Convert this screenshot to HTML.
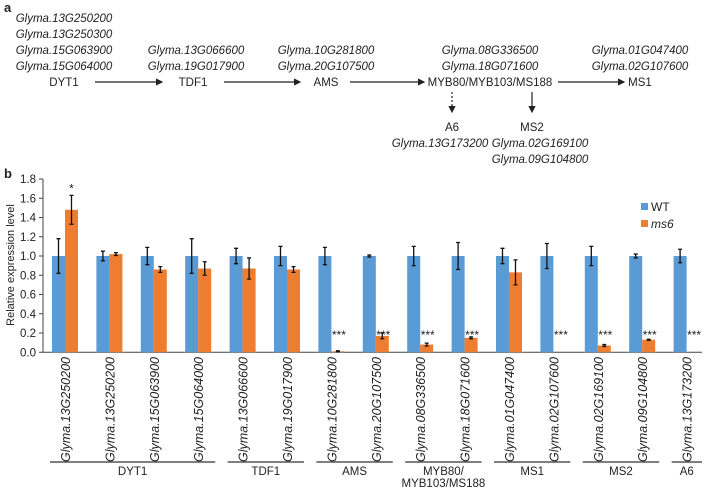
<!DOCTYPE html>
<html><head><meta charset="utf-8"><style>
html,body{margin:0;padding:0;background:#fff;}
svg text{font-family:"Liberation Sans",sans-serif;fill:#222;}
.it{font-style:italic;}
</style></head><body>
<svg id="fig" width="708" height="488" xmlns="http://www.w3.org/2000/svg">
<defs><marker id="ah" markerWidth="6" markerHeight="6" refX="5" refY="3" orient="auto"><path d="M0,0L6,3L0,6z" fill="#222"/></marker></defs>
<g font-size="11.5">
<text x="4" y="12" font-weight="bold" font-size="13">a</text>
<g class="it" text-anchor="middle">
<text x="64" y="22" class="it">Glyma.13G250200</text><text x="64" y="38" class="it">Glyma.13G250300</text>
<text x="64" y="54" class="it">Glyma.15G063900</text><text x="64" y="70" class="it">Glyma.15G064000</text></g>
<g text-anchor="middle">
<text x="196" y="54" class="it">Glyma.13G066600</text><text x="196" y="70" class="it">Glyma.19G017900</text></g>
<g text-anchor="middle">
<text x="326" y="54" class="it">Glyma.10G281800</text><text x="326" y="70" class="it">Glyma.20G107500</text></g>
<g text-anchor="middle">
<text x="490" y="54" class="it">Glyma.08G336500</text><text x="490" y="70" class="it">Glyma.18G071600</text></g>
<g text-anchor="middle">
<text x="640" y="54" class="it">Glyma.01G047400</text><text x="640" y="70" class="it">Glyma.02G107600</text></g>
<g text-anchor="middle">
<text x="64" y="86">DYT1</text><text x="193" y="86">TDF1</text><text x="326" y="86">AMS</text>
<text x="490" y="86">MYB80/MYB103/MS188</text><text x="640" y="86">MS1</text>
<text x="452" y="131">A6</text><text x="532" y="131">MS2</text></g>
<g stroke="#222" stroke-width="1.2">
<line x1="95" y1="82" x2="162" y2="82" marker-end="url(#ah)"/>
<line x1="224" y1="82" x2="300" y2="82" marker-end="url(#ah)"/>
<line x1="350" y1="82" x2="424" y2="82" marker-end="url(#ah)"/>
<line x1="558" y1="82" x2="624" y2="82" marker-end="url(#ah)"/>
<line x1="452" y1="92" x2="452" y2="112" stroke-dasharray="2,2" marker-end="url(#ah)"/>
<line x1="532" y1="92" x2="532" y2="112" marker-end="url(#ah)"/></g>
<g text-anchor="middle">
<text x="440" y="147" class="it">Glyma.13G173200</text>
<text x="540" y="147" class="it">Glyma.02G169100</text><text x="540" y="163" class="it">Glyma.09G104800</text></g>
</g>
<text x="4" y="178" font-weight="bold" font-size="13">b</text>
<g id="chart"></g>
</svg>
<script>
const genes=["Glyma.13G250200","Glyma.13G250200","Glyma.15G063900","Glyma.15G064000","Glyma.13G066600","Glyma.19G017900","Glyma.10G281800","Glyma.20G107500","Glyma.08G336500","Glyma.18G071600","Glyma.01G047400","Glyma.02G107600","Glyma.02G169100","Glyma.09G104800","Glyma.13G173200"];
const wtValues=[1.0,1.0,1.0,1.0,1.0,1.0,1.0,1.0,1.0,1.0,1.0,1.0,1.0,1.0,1.0];
const wtErrors=[0.18,0.05,0.09,0.18,0.08,0.1,0.09,0.01,0.1,0.14,0.08,0.13,0.1,0.02,0.07];
const ms6Values=[1.48,1.02,0.86,0.87,0.87,0.86,0.01,0.17,0.08,0.15,0.83,0,0.07,0.13,0];
const ms6Errors=[0.15,0.015,0.03,0.07,0.11,0.03,0.005,0.03,0.015,0.01,0.13,0,0.01,0.005,0];
const stars=["*","","","","","","***","***","***","***","","***","***","***","***"];
const yTicks=[0,0.2,0.4,0.6,0.8,1.0,1.2,1.4,1.6,1.8];
const groupNames=["DYT1","TDF1","AMS","MYB80/|MYB103/MS188","MS1","MS2","A6"];
const groupStart=[0,4,6,8,10,12,14];
const groupEnd=[3,5,7,9,11,13,14];
const NS="http://www.w3.org/2000/svg";
const g=document.getElementById('chart');
const x0=52,step=44.4,bw=13,yBase=352.25,yScale=96.25;
const X=i=>x0+i*step, Y=v=>yBase-v*yScale;
function mk(t,a,p){const e=document.createElementNS(NS,t);for(const k in a)e.setAttribute(k,a[k]);(p||g).appendChild(e);return e;}
let ax=mk('line',{x1:43,y1:Y(1.8),x2:43,y2:Y(0),stroke:'#444'});


let xa=mk('line',{x1:43,y1:Y(0),x2:702,y2:Y(0),stroke:'#444'});


yTicks.forEach(v=>{mk('line',{x1:39,x2:43,y1:Y(v),y2:Y(v),stroke:'#444'});
 const t=mk('text',{x:36,y:Y(v)+4,'text-anchor':'end','font-size':11.5});t.textContent=v.toFixed(1);
 
 });
let yt=mk('text',{transform:'translate(14,265) rotate(-90)','text-anchor':'middle','font-size':11});yt.textContent='Relative expression level';


genes.forEach((n,i)=>{
 const bx=X(i);
 let b=mk('rect',{x:bx,y:Y(wtValues[i]),width:bw,height:wtValues[i]*yScale,fill:'#5b9bd5'});
 
 
 let o=mk('rect',{x:bx+bw,y:Y(ms6Values[i]),width:bw,height:ms6Values[i]*yScale,fill:'#ed7d31'});
 
 
 [[bx+bw/2,wtValues[i],wtErrors[i]],[bx+bw*1.5,ms6Values[i],ms6Errors[i]]].forEach(([cx,v,e])=>{
  if(v<=0)return;
  const p=mk('path',{d:`M${cx},${Y(v+e)}V${Y(v-e)}M${cx-2},${Y(v+e)}h4M${cx-2},${Y(v-e)}h4`,stroke:'#111','stroke-width':1.3,fill:'none'});
  
  });
 if(stars[i]){const single=stars[i]==='*';
  const top=single?Y(ms6Values[i]+ms6Errors[i])-3:Y(0.2)+6;
  const s=mk('text',{x:single?bx+bw*1.5:bx+bw*1.5+1,y:top,'text-anchor':'middle','font-size':12});s.textContent=stars[i];
  
  }
 const l=mk('text',{transform:`translate(${bx+bw+5},357) rotate(-90)`,'text-anchor':'end','font-size':12.5,'font-style':'italic'});l.textContent=n;
 
 
});
groupNames.forEach((n,k)=>{
 const a=X(groupStart[k])-2,b=X(groupEnd[k])+2*bw+4;
 const ln=mk('line',{x1:a,x2:Math.min(b,702),y1:462,y2:462,stroke:'#333','stroke-width':1.2});
 
 
 const parts=n.split('|');
 parts.forEach((p,j)=>{const t=mk('text',{x:(a+Math.min(b,702))/2,y:475+j*12,'text-anchor':'middle','font-size':11.5});t.textContent=p;
  
  });
});
[['WT','#5b9bd5',210,false],['ms6','#ed7d31',227,true]].forEach(([n,c,y,it])=>{
 const r=mk('rect',{x:641,y:y-7,width:7,height:7,fill:c});
 
 
 const t=mk('text',{x:651,y:y+1,'font-size':12,'font-style':it?'italic':'normal'});t.textContent=n;
 
 });
</script>
</body></html>
